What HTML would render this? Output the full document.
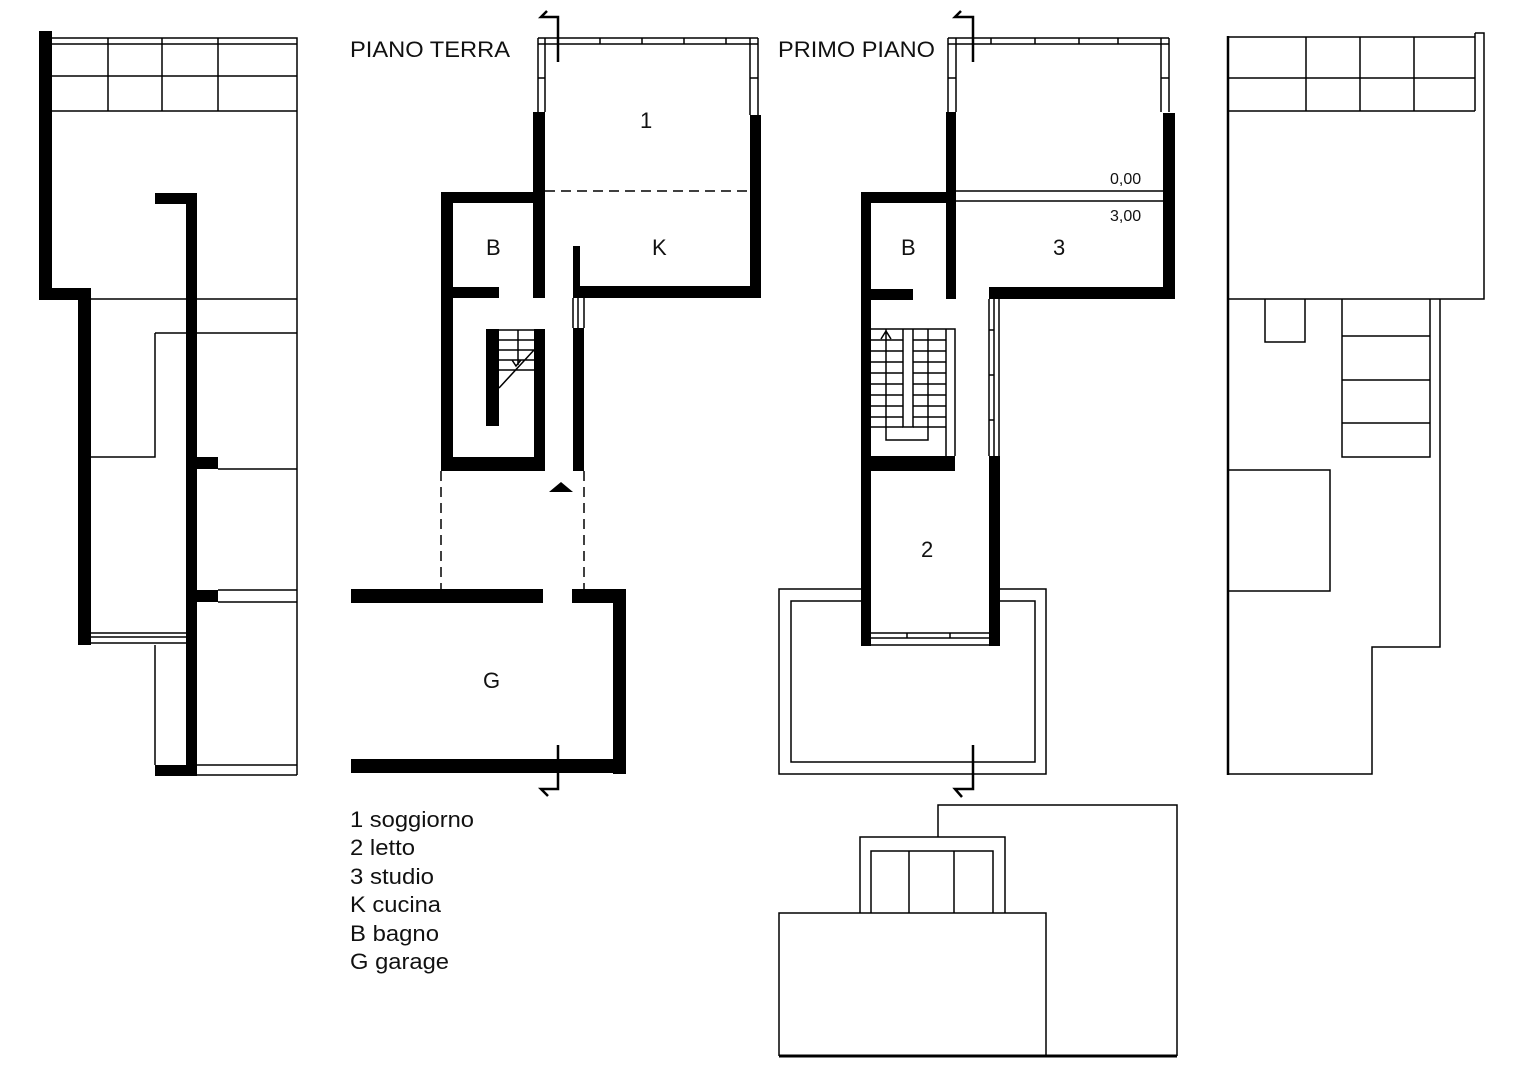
<!DOCTYPE html>
<html><head><meta charset="utf-8"><style>
html,body{margin:0;padding:0;background:#fff;}
svg{display:block;}
text{font-family:"Liberation Sans",sans-serif;fill:#111;}
</style></head><body>
<svg width="1527" height="1080" viewBox="0 0 1527 1080" xmlns="http://www.w3.org/2000/svg">
<rect width="1527" height="1080" fill="#fff"/>
<g fill="#000" stroke="none">
<rect x="39" y="31" width="13" height="268"/>
<rect x="39" y="288" width="52" height="12"/>
<rect x="78" y="288" width="13" height="357"/>
<rect x="155" y="193" width="42" height="11"/>
<rect x="186" y="193" width="11" height="583"/>
<rect x="197" y="457" width="21" height="12"/>
<rect x="197" y="590" width="21" height="12"/>
<rect x="155" y="765" width="42" height="11"/>
<rect x="533" y="112" width="12" height="186"/>
<rect x="750" y="115" width="11" height="183"/>
<rect x="573" y="286" width="188" height="12"/>
<rect x="573" y="246" width="7" height="52"/>
<rect x="441" y="192" width="104" height="11"/>
<rect x="441" y="192" width="12" height="279"/>
<rect x="441" y="457" width="104" height="14"/>
<rect x="534" y="329" width="11" height="142"/>
<rect x="453" y="287" width="46" height="11"/>
<rect x="486" y="329" width="13" height="97"/>
<rect x="573" y="328" width="11" height="143"/>
<polygon points="549,492 561,482 573,492"/>
<rect x="351" y="589" width="192" height="14"/>
<rect x="572" y="589" width="54" height="14"/>
<rect x="613" y="589" width="13" height="185"/>
<rect x="351" y="759" width="275" height="14"/>
<rect x="946" y="112" width="10" height="187"/>
<rect x="1163" y="113" width="12" height="186"/>
<rect x="989" y="287" width="186" height="12"/>
<rect x="861" y="192" width="95" height="11"/>
<rect x="861" y="192" width="10" height="454"/>
<rect x="871" y="289" width="42" height="11"/>
<rect x="861" y="456" width="94" height="15"/>
<rect x="989" y="456" width="11" height="190"/>
</g>
<g fill="none" stroke="#000" stroke-width="1.5">
<path d="M52 38H297V775M52 44H297M52 76H297M52 111H297M108 38V111M162 38V111M218 38V111"/>
<path d="M91 299H297M155 333H297M155 333V457H91M218 469H297M218 590H297M218 602H297"/>
<path d="M91 633H186M91 637H186M91 643H186M155 645V765M197 765H297M197 775H297"/>
<path d="M538 38H758M538 44H758M538 38V112M545 38V112M750 38V115M758 38V115M558 38V44M600 38V44M642 38V44M684 38V44M726 38V44M538 78H545M750 78H758"/>
<path d="M545 191H750" stroke-dasharray="10,6"/>
<path d="M441 471V590M584 471V590" stroke-dasharray="10,6"/>
<path d="M573 298V328M578 298V328M584 298V328"/>
<path d="M499 330H534M499 340H534M499 350H534M499 360H534M499 370H534M518 330V365M499 388L534 350M512 360L516 366L521 360"/>
<path d="M547 11L541 17H558V62" stroke-width="2.5"/>
<path d="M558 745V789H541L548 796" stroke-width="2.5"/>
<path d="M948 38H1169M948 44H1169M948 38V112M956 38V112M1161 38V112M1169 38V112M991 38V44M1035 38V44M1079 38V44M1118 38V44M948 78H956M1161 78H1169"/>
<path d="M956 191H1163M956 201H1163"/>
<path d="M871 329H955V456M903 329V427H913V329M946 329V456"/>
<path d="M871 340H903M871 351H903M871 362H903M871 373H903M871 384H903M871 395H903M871 406H903M871 417H903M871 427H903"/>
<path d="M913 340H946M913 351H946M913 362H946M913 373H946M913 384H946M913 395H946M913 406H946M913 417H946M913 427H946"/>
<path d="M886 329V440H928V329M881 339L886 331L891 339"/>
<path d="M989 299V456M994 299V456M999 299V456M989 330H994M989 375H994M989 420H994"/>
<path d="M861 589H779V774H1046V589H1000M861 601H791V762H1035V601H1000"/>
<path d="M871 633H989M871 638H989M871 645H989M907 633V638M950 633V638"/>
<path d="M961 11L955 17H973V62" stroke-width="2.5"/>
<path d="M973 745V789H955L962 797" stroke-width="2.5"/>
<path d="M938 837V805H1177V1056M860 913V837H1005V913M871 913V851H993V913M909 851V913M954 851V913M779 1056V913H1046V1056"/>
<path d="M779 1056H1177" stroke-width="3"/>
<path d="M1228 36V775" stroke-width="2.5"/>
<path d="M1228 37H1475M1475 33H1484V299H1228M1475 33V111M1228 78H1475M1228 111H1475M1306 37V111M1360 37V111M1414 37V111"/>
<path d="M1265 299V342H1305V299M1342 299V457H1430V299M1342 336H1430M1342 380H1430M1342 423H1430"/>
<path d="M1440 299V647H1372V774H1228M1228 470H1330V591H1228"/>
</g>
<g font-size="22">
<text x="350" y="57" textLength="160" lengthAdjust="spacingAndGlyphs">PIANO TERRA</text>
<text x="778" y="57" textLength="157" lengthAdjust="spacingAndGlyphs">PRIMO PIANO</text>
<text x="640" y="128">1</text>
<text x="652" y="255">K</text>
<text x="486" y="255">B</text>
<text x="483" y="688">G</text>
<text x="901" y="255">B</text>
<text x="1053" y="255">3</text>
<text x="921" y="557">2</text>
</g>
<g font-size="16">
<text x="1110" y="184">0,00</text>
<text x="1110" y="221">3,00</text>
</g>
<g font-size="22">
<text x="350" y="827" textLength="124" lengthAdjust="spacingAndGlyphs">1 soggiorno</text>
<text x="350" y="855" textLength="65" lengthAdjust="spacingAndGlyphs">2 letto</text>
<text x="350" y="884" textLength="84" lengthAdjust="spacingAndGlyphs">3 studio</text>
<text x="350" y="912" textLength="91" lengthAdjust="spacingAndGlyphs">K cucina</text>
<text x="350" y="941" textLength="89" lengthAdjust="spacingAndGlyphs">B bagno</text>
<text x="350" y="969" textLength="99" lengthAdjust="spacingAndGlyphs">G garage</text>
</g>
</svg>
</body></html>
